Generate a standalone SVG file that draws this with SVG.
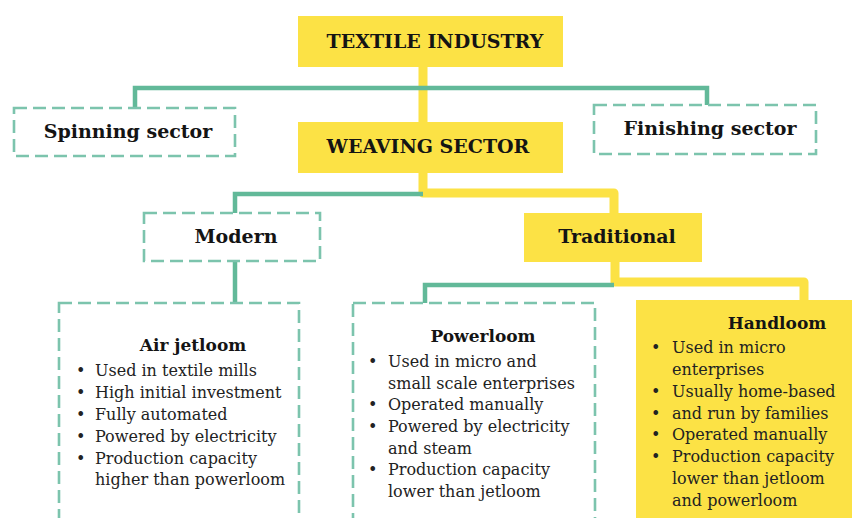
<svg xmlns="http://www.w3.org/2000/svg" width="854" height="518" viewBox="0 0 854 518">
  <defs>
    <style>
      .solid { fill: #FCE245; }
      .dash { fill: #ffffff; stroke: #7CC4AD; stroke-width: 2.6; stroke-dasharray: 13 6; }
      .yl { fill: none; stroke: #FCE245; stroke-width: 9; stroke-linejoin: round; }
      .gl { fill: none; stroke: #62B999; stroke-width: 4.5; stroke-linejoin: miter; }
      .h { font-family: "DejaVu Serif", "Liberation Serif", serif; font-weight: bold; font-size: 19px; fill: #141414; text-anchor: middle; }
      .t { font-family: "DejaVu Serif", "Liberation Serif", serif; font-weight: bold; font-size: 17px; fill: #141414; text-anchor: middle; }
      .b { font-family: "DejaVu Serif", "Liberation Serif", serif; font-size: 16px; fill: #222222; }
    </style>
  </defs>
  <rect width="854" height="518" fill="#ffffff"/>

  <!-- connectors -->
  <g id="connectors">
    <path class="yl" d="M423 60 V193 H614 V216"/>
    <path class="yl" d="M615 258 V282 H804 V304"/>
    <path class="gl" d="M135 108 V88 H707 V106"/>
    <path class="gl" d="M235 214 V194 H423"/>
    <path class="gl" d="M235 260 V303"/>
    <path class="gl" d="M614 285 H425 V303"/>
  </g>

  <g id="textile-industry">
    <rect class="solid" x="298" y="16" width="265" height="51"/>
    <text class="h" x="435" y="48">TEXTILE INDUSTRY</text>
  </g>

  <g id="spinning-sector">
    <rect class="dash" x="14" y="108" width="221" height="48"/>
    <text class="h" x="128" y="138">Spinning sector</text>
  </g>

  <g id="weaving-sector">
    <rect class="solid" x="298" y="122" width="265" height="51"/>
    <text class="h" x="428" y="153">WEAVING SECTOR</text>
  </g>

  <g id="finishing-sector">
    <rect class="dash" x="594" y="105" width="222" height="49"/>
    <text class="h" x="710" y="135">Finishing sector</text>
  </g>

  <g id="modern">
    <rect class="dash" x="144" y="213" width="176" height="48"/>
    <text class="h" x="236" y="243">Modern</text>
  </g>

  <g id="traditional">
    <rect class="solid" x="524" y="213" width="178" height="49"/>
    <text class="h" x="617" y="243">Traditional</text>
  </g>

  <g id="air-jetloom">
    <rect class="dash" x="59" y="303" width="240" height="240"/>
    <text class="t" x="193" y="351">Air jetloom</text>
    <g class="b">
      <text x="76" y="376">•</text><text x="95" y="376">Used in textile mills</text>
      <text x="76" y="398">•</text><text x="95" y="398">High initial investment</text>
      <text x="76" y="420">•</text><text x="95" y="420">Fully automated</text>
      <text x="76" y="442">•</text><text x="95" y="442">Powered by electricity</text>
      <text x="76" y="464">•</text><text x="95" y="464">Production capacity</text>
      <text x="95" y="485">higher than powerloom</text>
    </g>
  </g>

  <g id="powerloom">
    <rect class="dash" x="353" y="303" width="242" height="240"/>
    <text class="t" x="483" y="342">Powerloom</text>
    <g class="b">
      <text x="368" y="367">•</text><text x="388" y="367">Used in micro and</text>
      <text x="388" y="389">small scale enterprises</text>
      <text x="368" y="410">•</text><text x="388" y="410">Operated manually</text>
      <text x="368" y="432">•</text><text x="388" y="432">Powered by electricity</text>
      <text x="388" y="454">and steam</text>
      <text x="368" y="475">•</text><text x="388" y="475">Production capacity</text>
      <text x="388" y="497">lower than jetloom</text>
    </g>
  </g>

  <g id="handloom">
    <rect class="solid" x="636" y="300" width="216" height="230"/>
    <text class="t" x="777" y="329">Handloom</text>
    <g class="b">
      <text x="651" y="353">•</text><text x="672" y="353">Used in micro</text>
      <text x="672" y="375">enterprises</text>
      <text x="651" y="397">•</text><text x="672" y="397">Usually home-based</text>
      <text x="651" y="419">•</text><text x="672" y="419">and run by families</text>
      <text x="651" y="440">•</text><text x="672" y="440">Operated manually</text>
      <text x="651" y="462">•</text><text x="672" y="462">Production capacity</text>
      <text x="672" y="484">lower than jetloom</text>
      <text x="672" y="506">and powerloom</text>
    </g>
  </g>
</svg>
